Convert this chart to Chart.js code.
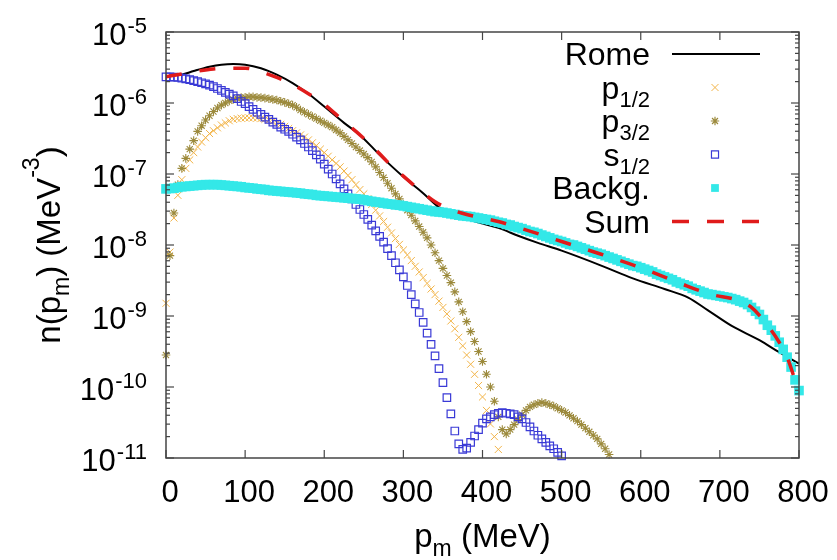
<!DOCTYPE html>
<html><head><meta charset="utf-8">
<script src="https://cdn.jsdelivr.net/npm/chart.js@4.4.1/dist/chart.umd.min.js"></script>
<style>html,body{margin:0;padding:0;background:#fff;}canvas{display:block;}</style>
</head><body>
<canvas id="c" width="837" height="560"></canvas>
<script>
// momentum grid (MeV) for the point series
const pm = [0,5,10,15,20,25,30,35,40,45,50,55,60,65,70,75,80,85,90,95,100,105,110,115,120,125,130,135,140,145,150,155,160,165,170,175,180,185,190,195,200,205,210,215,220,225,230,235,240,245,250,255,260,265,270,275,280,285,290,295,300,305,310,315,320,325,330,335,340,345,350,355,360,365,370,375,380,385,390,395,400,405,410,415,420,425,430,435,440,445,450,455,460,465,470,475,480,485,490,495,500,505,510,515,520,525,530,535,540,545,550,555,560,565,570,575,580,585,590,595,600,605,610,615,620,625,630,635,640,645,650,655,660,665,670,675,680,685,690,695,700,705,710,715,720,725,730,735,740,745,750,755,760,765,770,775,780,785,790,795,800];

const p12 = [1.51e-9,7.94e-9,2.40e-8,5.01e-8,8.32e-8,1.20e-7,1.58e-7,2.00e-7,2.40e-7,2.82e-7,
3.24e-7,3.72e-7,4.07e-7,4.47e-7,4.90e-7,5.25e-7,5.62e-7,5.89e-7,6.03e-7,6.10e-7,
6.17e-7,6.17e-7,6.17e-7,6.10e-7,6.03e-7,5.89e-7,5.75e-7,5.50e-7,5.25e-7,5.01e-7,
4.68e-7,4.37e-7,4.07e-7,3.80e-7,3.55e-7,3.31e-7,3.02e-7,2.75e-7,2.51e-7,2.24e-7,
2.00e-7,1.78e-7,1.58e-7,1.41e-7,1.26e-7,1.10e-7,9.55e-8,8.32e-8,7.08e-8,6.03e-8,
5.25e-8,4.47e-8,3.72e-8,3.09e-8,2.57e-8,2.14e-8,1.78e-8,1.48e-8,1.23e-8,1.02e-8,
8.51e-9,7.24e-9,6.03e-9,5.01e-9,4.17e-9,3.47e-9,2.88e-9,2.40e-9,2.00e-9,1.62e-9,
1.32e-9,1.07e-9,8.51e-10,6.61e-10,5.01e-10,3.80e-10,2.82e-10,2.09e-10,1.51e-10,1.05e-10,
7.24e-11,4.68e-11,3.02e-11,2.00e-11,1.32e-11];

const p32 = [2.82e-10,7.08e-9,2.82e-8,7.08e-8,1.20e-7,1.66e-7,2.24e-7,2.95e-7,3.98e-7,4.79e-7,
5.75e-7,6.61e-7,7.59e-7,8.51e-7,9.33e-7,1.00e-6,1.07e-6,1.12e-6,1.16e-6,1.19e-6,
1.20e-6,1.22e-6,1.22e-6,1.20e-6,1.19e-6,1.17e-6,1.15e-6,1.12e-6,1.10e-6,1.06e-6,
1.02e-6,9.77e-7,9.33e-7,8.71e-7,7.94e-7,7.41e-7,6.92e-7,6.46e-7,6.03e-7,5.62e-7,
5.25e-7,4.90e-7,4.57e-7,4.17e-7,3.80e-7,3.39e-7,3.02e-7,2.69e-7,2.40e-7,2.14e-7,
1.91e-7,1.70e-7,1.48e-7,1.26e-7,1.05e-7,8.91e-8,7.41e-8,6.31e-8,5.25e-8,4.47e-8,
3.72e-8,3.09e-8,2.63e-8,2.19e-8,1.82e-8,1.51e-8,1.26e-8,1.00e-8,7.76e-9,6.03e-9,
4.68e-9,3.72e-9,2.95e-9,2.19e-9,1.58e-9,1.15e-9,8.32e-10,6.03e-10,4.37e-10,3.16e-10,
2.29e-10,1.51e-10,1.00e-10,6.31e-11,3.80e-11,2.51e-11,2.19e-11,2.51e-11,2.95e-11,3.47e-11,
4.07e-11,4.68e-11,5.25e-11,5.62e-11,5.89e-11,6.03e-11,5.89e-11,5.62e-11,5.37e-11,5.01e-11,
4.68e-11,4.37e-11,3.98e-11,3.63e-11,3.31e-11,2.95e-11,2.63e-11,2.34e-11,2.09e-11,1.86e-11,
1.58e-11,1.35e-11,1.12e-11];

const s12 = [2.34e-6,2.34e-6,2.32e-6,2.29e-6,2.24e-6,2.19e-6,2.14e-6,2.07e-6,2.00e-6,1.93e-6,
1.86e-6,1.78e-6,1.70e-6,1.60e-6,1.51e-6,1.41e-6,1.33e-6,1.26e-6,1.15e-6,1.05e-6,
9.77e-7,8.91e-7,8.13e-7,7.41e-7,6.92e-7,6.31e-7,5.89e-7,5.37e-7,5.01e-7,4.57e-7,
4.27e-7,3.98e-7,3.63e-7,3.31e-7,3.02e-7,2.69e-7,2.40e-7,2.14e-7,1.86e-7,1.62e-7,
1.38e-7,1.17e-7,1.00e-7,8.51e-8,7.24e-8,6.17e-8,5.25e-8,4.47e-8,3.72e-8,3.16e-8,
2.69e-8,2.29e-8,1.91e-8,1.58e-8,1.32e-8,1.10e-8,8.91e-9,7.08e-9,5.62e-9,4.47e-9,
3.55e-9,2.69e-9,2.00e-9,1.48e-9,1.12e-9,8.13e-10,5.75e-10,3.98e-10,2.75e-10,1.82e-10,
1.15e-10,7.08e-11,4.17e-11,2.40e-11,1.58e-11,1.32e-11,1.38e-11,1.66e-11,2.04e-11,2.51e-11,
3.09e-11,3.55e-11,3.80e-11,4.07e-11,4.27e-11,4.37e-11,4.27e-11,4.17e-11,4.07e-11,3.80e-11,
3.55e-11,3.16e-11,2.75e-11,2.40e-11,2.09e-11,1.86e-11,1.66e-11,1.48e-11,1.35e-11,1.20e-11,
1.07e-11];

const backg = [6.17e-8,6.24e-8,6.31e-8,6.46e-8,6.61e-8,6.68e-8,6.76e-8,6.84e-8,6.92e-8,7.00e-8,
7.08e-8,7.08e-8,7.08e-8,7.08e-8,7.00e-8,6.92e-8,6.84e-8,6.76e-8,6.68e-8,6.61e-8,
6.46e-8,6.38e-8,6.31e-8,6.17e-8,6.10e-8,6.03e-8,5.89e-8,5.82e-8,5.75e-8,5.69e-8,
5.62e-8,5.56e-8,5.50e-8,5.43e-8,5.37e-8,5.25e-8,5.19e-8,5.13e-8,5.01e-8,4.95e-8,
4.90e-8,4.84e-8,4.79e-8,4.73e-8,4.68e-8,4.62e-8,4.57e-8,4.52e-8,4.47e-8,4.42e-8,
4.32e-8,4.22e-8,4.12e-8,4.03e-8,3.98e-8,3.89e-8,3.80e-8,3.76e-8,3.67e-8,3.63e-8,
3.55e-8,3.47e-8,3.39e-8,3.31e-8,3.24e-8,3.16e-8,3.09e-8,3.02e-8,2.95e-8,2.92e-8,
2.88e-8,2.82e-8,2.75e-8,2.69e-8,2.63e-8,2.57e-8,2.54e-8,2.51e-8,2.45e-8,2.40e-8,
2.34e-8,2.29e-8,2.24e-8,2.16e-8,2.09e-8,2.04e-8,1.95e-8,1.91e-8,1.82e-8,1.76e-8,
1.70e-8,1.62e-8,1.55e-8,1.51e-8,1.45e-8,1.38e-8,1.32e-8,1.26e-8,1.20e-8,1.16e-8,
1.12e-8,1.07e-8,1.02e-8,1.00e-8,9.55e-9,9.12e-9,8.71e-9,8.32e-9,7.94e-9,7.67e-9,
7.41e-9,7.08e-9,6.76e-9,6.46e-9,6.17e-9,5.89e-9,5.62e-9,5.37e-9,5.13e-9,5.01e-9,
4.79e-9,4.57e-9,4.37e-9,4.17e-9,3.89e-9,3.72e-9,3.55e-9,3.39e-9,3.24e-9,3.02e-9,
2.88e-9,2.75e-9,2.63e-9,2.45e-9,2.34e-9,2.24e-9,2.14e-9,2.04e-9,2.00e-9,1.95e-9,
1.91e-9,1.86e-9,1.82e-9,1.76e-9,1.70e-9,1.62e-9,1.55e-9,1.45e-9,1.32e-9,1.17e-9,
1.05e-9,8.91e-10,7.41e-10,6.31e-10,5.25e-10,4.27e-10,3.39e-10,2.63e-10,1.91e-10,1.26e-10,
8.91e-11];

const romeP = [0,20,35,55,70,85,100,120,140,160,180,200,225,245,270,300,325,345,360,380,400,420,445,470,500,550,590,630,660,685,715,750,775,800];
const romeN = [2.40e-6,2.51e-6,2.82e-6,3.24e-6,3.47e-6,3.55e-6,3.47e-6,3.09e-6,2.51e-6,1.91e-6,1.35e-6,8.91e-7,5.25e-7,3.55e-7,1.86e-7,9.12e-8,5.37e-8,3.39e-8,2.82e-8,2.34e-8,2.00e-8,1.74e-8,1.35e-8,1.07e-8,8.32e-9,5.13e-9,3.39e-9,2.40e-9,1.82e-9,1.20e-9,7.24e-10,4.57e-10,3.09e-10,2.14e-10];

const sumP = [0,20,40,60,80,100,120,140,160,180,200,220,240,260,280,300,320,340,360,380,400,420,450,500,550,600,650,690,720,740,760,775,785,795,800];
const sumN = [2.34e-6,2.57e-6,2.82e-6,3.02e-6,3.09e-6,3.09e-6,2.75e-6,2.29e-6,1.82e-6,1.35e-6,9.55e-7,6.17e-7,3.98e-7,2.51e-7,1.48e-7,9.33e-8,6.03e-8,4.07e-8,3.16e-8,2.69e-8,2.40e-8,2.14e-8,1.70e-8,1.12e-8,7.41e-9,4.79e-9,2.88e-9,2.00e-9,1.70e-9,1.32e-9,7.41e-10,4.27e-10,2.63e-10,1.26e-10,8.91e-11];

const xTicks = [0,100,200,300,400,500,600,700,800];
const xTickLabels = ['0','100','200','300','400','500','600','700','800'];
const yExps = [-11,-10,-9,-8,-7,-6,-5];
const yExpLabels = ['-11','-10','-9','-8','-7','-6','-5'];

const FF = '"Liberation Sans", Arial, Helvetica, sans-serif';
const C = {p12:'#f2b448', p32:'#9c8a3c', s12:'#3a3ad6', bg:'#33e8e8', rome:'#000000', sum:'#e01b1b'};

function pts(xs, ys){ return ys.map((v,i)=>({x:xs[i], y:v})); }

const legendRows = [
  {main:'Rome', sub:'', kind:'line'},
  {main:'p', sub:'1/2', kind:'pt', style:'crossRot', r:5, color:C.p12, fill:false, bw:1},
  {main:'p', sub:'3/2', kind:'pt', style:'star', r:4.2, color:C.p32, fill:false, bw:1.2},
  {main:'s', sub:'1/2', kind:'pt', style:'rect', r:5, color:C.s12, fill:false, bw:1.2},
  {main:'Backg.', sub:'', kind:'pt', style:'rect', r:5.5, color:C.bg, fill:true, bw:0},
  {main:'Sum', sub:'', kind:'dash'}
];

const frame = {
  id:'frame',
  afterDatasetsDraw(chart){
    const {ctx, chartArea:a, scales:{x, y}} = chart;
    ctx.save();
    ctx.strokeStyle = '#454545'; ctx.lineWidth = 1.5; ctx.setLineDash([]);
    ctx.strokeRect(a.left, a.top, a.right - a.left, a.bottom - a.top);
    ctx.lineWidth = 1.2;
    const seg = (x1,y1,x2,y2)=>{ctx.beginPath();ctx.moveTo(x1,y1);ctx.lineTo(x2,y2);ctx.stroke();};
    xTicks.forEach(v=>{
      const px = x.getPixelForValue(v);
      seg(px, a.bottom, px, a.bottom - 8);
      seg(px, a.top, px, a.top + 8);
    });
    yExps.forEach(e=>{
      for (let m = 1; m <= 9; m++){
        const val = Number(m + 'e' + e);
        if (val > 1.0001e-5) break;
        const py = y.getPixelForValue(val);
        const len = m === 1 ? 8 : 4;
        seg(a.left, py, a.left + len, py);
        seg(a.right, py, a.right - len, py);
      }
    });
    ctx.fillStyle = '#000';
    ctx.font = '31px ' + FF; ctx.textAlign = 'center'; ctx.textBaseline = 'alphabetic';
    xTicks.forEach((v,i)=>{ ctx.fillText(xTickLabels[i], x.getPixelForValue(v) + 4, 502); });
    yExps.forEach((e,i)=>{
      const py = y.getPixelForValue(Number('1e' + e));
      ctx.font = '22px ' + FF; ctx.textAlign = 'left';
      const sw = ctx.measureText(yExpLabels[i]).width;
      const right = 147;
      ctx.fillText(yExpLabels[i], right - sw, py + 0.5);
      ctx.font = '31px ' + FF; ctx.textAlign = 'right';
      ctx.fillText('10', right - sw - 1, py + 12.5);
    });
    const xt = [['p',33,0],['m',23,9],[' (MeV)',33,0]];
    let w = 0;
    xt.forEach(s=>{ctx.font = s[1]+'px '+FF; w += ctx.measureText(s[0]).width;});
    let cx = (a.left + a.right)/2 - w/2;
    ctx.textAlign = 'left';
    xt.forEach(s=>{ctx.font = s[1]+'px '+FF; ctx.fillText(s[0], cx, 547 + s[2]); cx += ctx.measureText(s[0]).width;});
    const yt = [['n(p',33,0],['m',23,9],[') (MeV',33,0],['-3',23,-21],[')',33,0]];
    w = 0;
    yt.forEach(s=>{ctx.font = s[1]+'px '+FF; w += ctx.measureText(s[0]).width;});
    ctx.save();
    ctx.translate(60, (a.top + a.bottom)/2);
    ctx.rotate(-Math.PI/2);
    cx = -w/2;
    yt.forEach(s=>{ctx.font = s[1]+'px '+FF; ctx.fillText(s[0], cx, s[2]); cx += ctx.measureText(s[0]).width;});
    ctx.restore();
    const textRight = 650, sx = 715;
    legendRows.forEach((r,i)=>{
      const base = 65 + i*33.5;
      ctx.fillStyle = '#000';
      ctx.textAlign = 'left';
      ctx.font = '22px ' + FF;
      const subW = r.sub ? ctx.measureText(r.sub).width : 0;
      ctx.font = '32px ' + FF;
      const mainW = ctx.measureText(r.main).width;
      ctx.fillText(r.main, textRight - subW - mainW, base);
      if (r.sub){ ctx.font = '22px ' + FF; ctx.fillText(r.sub, textRight - subW, base + 8); }
      const my = base - 11;
      if (r.kind === 'line'){
        ctx.strokeStyle = C.rome; ctx.lineWidth = 2; ctx.setLineDash([]);
        seg(672, my, 760, my);
      } else if (r.kind === 'dash'){
        ctx.strokeStyle = C.sum; ctx.lineWidth = 3.5; ctx.setLineDash([17,18]);
        seg(672, my, 760, my);
        ctx.setLineDash([]);
      } else {
        ctx.strokeStyle = r.color;
        ctx.fillStyle = r.fill ? r.color : 'rgba(0,0,0,0)';
        ctx.lineWidth = r.bw;
        Chart.helpers.drawPoint(ctx, {pointStyle:r.style, radius:r.r, rotation:0, borderWidth:r.bw}, sx, my);
      }
    });
    ctx.restore();
  }
};

new Chart(document.getElementById('c'), {
  type: 'scatter',
  data: { datasets: [
    { label:'Sum', data: pts(sumP, sumN), showLine:true, borderColor:C.sum, borderWidth:3.5, borderDash:[16,18],
      pointRadius:0, cubicInterpolationMode:'monotone', order:0 },
    { label:'Backg.', data: pts(pm, backg), showLine:false, pointStyle:'rect', pointRadius:6.8,
      pointBackgroundColor:C.bg, pointBorderColor:C.bg, pointBorderWidth:0, clip:false, order:1 },
    { label:'s1/2', data: pts(pm, s12), showLine:false, pointStyle:'rect', pointRadius:5.3,
      pointBackgroundColor:'rgba(0,0,0,0)', pointBorderColor:C.s12, pointBorderWidth:1.2, clip:false, order:2 },
    { label:'p3/2', data: pts(pm, p32), showLine:false, pointStyle:'star', pointRadius:4.3,
      pointBackgroundColor:'rgba(0,0,0,0)', pointBorderColor:C.p32, pointBorderWidth:1.1, clip:false, order:3 },
    { label:'p1/2', data: pts(pm, p12), showLine:false, pointStyle:'crossRot', pointRadius:5,
      pointBackgroundColor:'rgba(0,0,0,0)', pointBorderColor:C.p12, pointBorderWidth:1, clip:false, order:4 },
    { label:'Rome', data: pts(romeP, romeN), showLine:true, borderColor:C.rome, borderWidth:2,
      pointRadius:0, cubicInterpolationMode:'monotone', order:5 }
  ]},
  options: {
    responsive:false, animation:false, devicePixelRatio:1, events:[],
    layout:{ padding:{ left:166, right:38, top:32, bottom:102 } },
    scales:{
      x:{ type:'linear', min:0, max:800, display:false },
      y:{ type:'logarithmic', min:1e-11, max:1e-5, display:false }
    },
    plugins:{ legend:{display:false}, tooltip:{enabled:false} }
  },
  plugins:[frame]
});
</script>
</body></html>
